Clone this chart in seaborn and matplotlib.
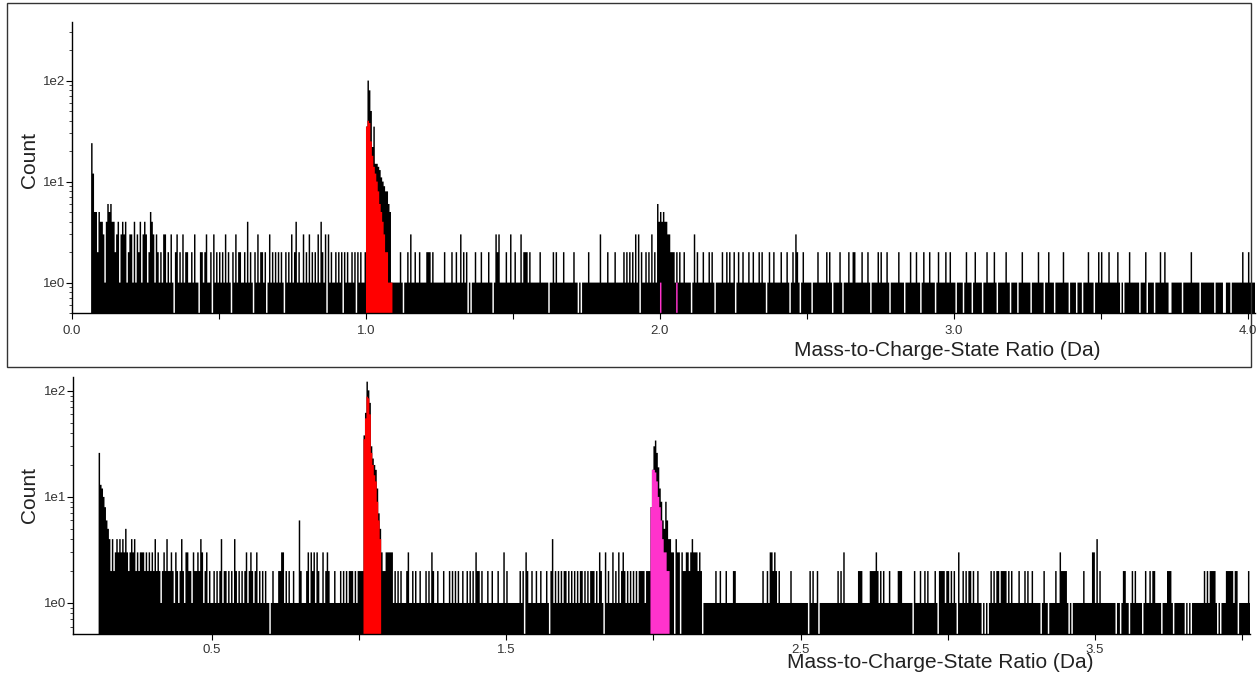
import numpy as np
import pandas as pd
import seaborn as sns
import matplotlib
matplotlib.use("Agg")
import matplotlib.pyplot as plt
from matplotlib.ticker import MultipleLocator, FuncFormatter, NullFormatter, LogLocator
from matplotlib.patches import Rectangle

BIN_WIDTH = 0.005  # Da

# per-bin counts, 20 bins (0.1 Da) per string
top_counts_str = [
    "00000000000009955254", "43146564423413434123", "31413241343125431321",
    "21331213102312131221", "12131102212311203121", "21213121021312211214",
    "12102131221201312121", "21210212131241211312", "13121213142130312112",
    "12120212112120212112", "11111111111111111111", "11121011213112112111",
    "12221211111112111121", "12113121201011211121", "11121101323111121131",
    "12111312221211111121", "11110112121111211111", "12110101111211111113",
    "11112111121111121212", "12131302112121312111", "11111111111112112111",
    "10131211121112121011", "11211212112012112111", "21121112121101211211",
    "11211121012132101211", "11101112111112121011", "11210111211221111211",
    "12101111212111210111", "11211101112111211012", "11121110121111211211",
    "10111101211101211110", "11211112101111121101", "11101121111101111211",
    "10112111011111211101", "11101110111211101121", "21111211111210101112",
    "11111101112011110111", "21121100111111101111", "12111110111111111011",
    "11100111011111112111211111",
]
top_low_start = 0.065
top_low_counts = [24, 12]
top_h_start = 1.000
top_h_total = [35, 100, 80, 50, 22, 35, 15, 15, 14, 13, 11, 10, 9, 8, 8, 6, 5, 1]
top_h_ranged = [35, 40, 38, 25, 18, 14, 12, 10, 8, 6, 5, 4, 3, 2, 2, 1, 1, 1]
top_h2_start = 1.990
top_h2_total = [6, 4, 5, 4, 5, 4, 4, 3, 3, 2, 2, 2, 1, 2, 1]
top_h2_ranged = [0, 0, 1, 0, 0, 0, 0, 0, 0, 0, 0, 0, 0, 1, 0]

bot_counts_str = [
    "00000000000000000000", "00099999999242343434", "35323434232333232323",
    "24232123242232132124", "21332213223243123121", "12121241221212142121",
    "21231232123121212110", "12111223312121121116", "21112313231321131232",
    "11121112121212221212", "22111111111111111233", "33312121211123112121",
    "12111212132112111211", "12121212112112121213", "22121112112111211131",
    "21111111121203211211", "21121112102412121212", "21212121212212121222",
    "12132103121131213123", "21212121212222122213", "11111111111113043303",
    "22332343332320111111", "11211211121111221111", "11111111111111211213",
    "32321211111112111111", "11111021211201111111", "11111212131111111112",
    "22111112222321212111", "21111122211111110211", "12112121111210222212",
    "21212103112121221211", "21101010121212212222", "12121111211121211211",
    "11101211011112113222", "21010111111121111133", "14121111111111011012",
    "21101212111101211212", "21111011122210111111", "10101011111111212122",
    "22101011122222122011111121",
]
bot_low_start = 0.115
bot_low_counts = [26, 13, 12, 10, 8, 6, 5, 4]
bot_h_start = 1.010
bot_h_total = [2, 38, 62, 122, 101, 77, 30, 23, 20, 18, 12, 7, 5, 3, 2]
bot_h_ranged = [0, 35, 55, 88, 85, 60, 26, 20, 16, 14, 9, 6, 4, 0, 0]
bot_h2_start = 1.985
bot_h2_total = [2, 8, 18, 30, 34, 26, 19, 12, 9, 6, 5, 9, 6, 4, 4, 3]
bot_h2_ranged = [0, 8, 18, 18, 17, 14, 10, 8, 6, 4, 3, 3, 2, 2, 0, 0]

RED = "#ff0000"
PINK = "#ff33cc"


def digits(segments):
    return np.array([int(c) for c in "".join(segments)], dtype=float)


def put(arr, start, values):
    i = int(round(start / BIN_WIDTH))
    arr[i:i + len(values)] = values


def build(segments, low, peaks):
    total = digits(segments)
    put(total, *low)
    ranged1 = np.zeros_like(total)
    ranged2 = np.zeros_like(total)
    (s1, t1, r1), (s2, t2, r2) = peaks
    put(total, s1, t1)
    put(ranged1, s1, r1)
    put(total, s2, t2)
    put(ranged2, s2, r2)
    edges = np.arange(len(total) + 1) * BIN_WIDTH
    df = pd.DataFrame({"mass": edges[:-1] + BIN_WIDTH / 2, "total": total,
                       "r1": ranged1, "r2": ranged2})
    return df, edges.tolist()


def draw(ax, df, edges, xlim, ylim, labelled):
    ax.set_yscale("log")
    sns.histplot(data=df, x="mass", weights="total", bins=edges, element="step",
                 fill=True, color="black", alpha=1, linewidth=0, ax=ax)
    sns.histplot(data=df, x="mass", weights="r1", bins=edges, element="step",
                 fill=True, color=RED, alpha=1, linewidth=0, ax=ax)
    sns.histplot(data=df, x="mass", weights="r2", bins=edges, element="step",
                 fill=True, color=PINK, alpha=1, linewidth=0, ax=ax)
    ax.set_xlim(*xlim)
    ax.set_ylim(*ylim)
    ax.set_xlabel("")
    ax.set_ylabel("")
    ax.yaxis.set_major_locator(LogLocator(base=10))
    ax.yaxis.set_minor_locator(LogLocator(base=10, subs=np.arange(2, 10)))
    ax.yaxis.set_major_formatter(FuncFormatter(lambda v, p: f"1e{int(round(np.log10(v)))}"))
    ax.yaxis.set_minor_formatter(NullFormatter())
    ax.xaxis.set_major_locator(MultipleLocator(0.5))
    ax.xaxis.set_major_formatter(FuncFormatter(
        lambda v, p: f"{v:.1f}" if labelled(v) else ""))
    ax.tick_params(axis="both", which="major", direction="out", length=4,
                   width=0.8, labelsize=9.5, colors="black")
    ax.tick_params(axis="both", labelcolor="#333333")
    ax.tick_params(axis="y", which="minor", direction="out", length=2.5, width=0.6)
    ax.tick_params(axis="y", pad=1)
    sns.despine(ax=ax)
    for s in ("left", "bottom"):
        ax.spines[s].set_linewidth(1.0)
        ax.spines[s].set_color("black")
    ax.set_facecolor("white")


sns.set_style("ticks")
plt.rcParams["font.family"] = ["Liberation Sans", "DejaVu Sans"]

W, H = 1260, 681
fig = plt.figure(figsize=(W / 100, H / 100), dpi=100)

top_df, top_edges = build(top_counts_str, (top_low_start, top_low_counts),
                          [(top_h_start, top_h_total, top_h_ranged),
                           (top_h2_start, top_h2_total, top_h2_ranged)])
bot_df, bot_edges = build(bot_counts_str, (bot_low_start, bot_low_counts),
                          [(bot_h_start, bot_h_total, bot_h_ranged),
                           (bot_h2_start, bot_h2_total, bot_h2_ranged)])

ax_top = fig.add_axes([72 / W, 1 - 313 / H, (1255 - 72) / W, (313 - 22) / H])
draw(ax_top, top_df, top_edges, (0, 4.024), (0.5, 380),
     lambda v: abs(v - round(v)) < 1e-6)
ax_top.tick_params(axis="x", pad=5)

ax_bot = fig.add_axes([73 / W, 1 - 634 / H, (1250 - 73) / W, (634 - 377) / H])
draw(ax_bot, bot_df, bot_edges, (0.028, 4.027), (0.51, 135),
     lambda v: abs(v - round(v)) > 0.25)
ax_bot.tick_params(axis="x", pad=3)

xlab = "Mass-to-Charge-State Ratio (Da)"
fig.text(947 / W, 1 - 351 / H, xlab, ha="center", va="center", fontsize=15, color="#222222")
fig.text(940 / W, 1 - 663 / H, xlab, ha="center", va="center", fontsize=15, color="#222222")
fig.text(30 / W, 1 - 160 / H, "Count", rotation=90, ha="center", va="center", fontsize=15, color="#222222")
fig.text(30 / W, 1 - 495 / H, "Count", rotation=90, ha="center", va="center", fontsize=15, color="#222222")

fig.add_artist(Rectangle((7 / W, 1 - 367 / H), (1251 - 7) / W, (367 - 3) / H,
                         transform=fig.transFigure, fill=False, lw=1.0, ec="#333333"))

fig.savefig("out.png", dpi=100, facecolor="white")
